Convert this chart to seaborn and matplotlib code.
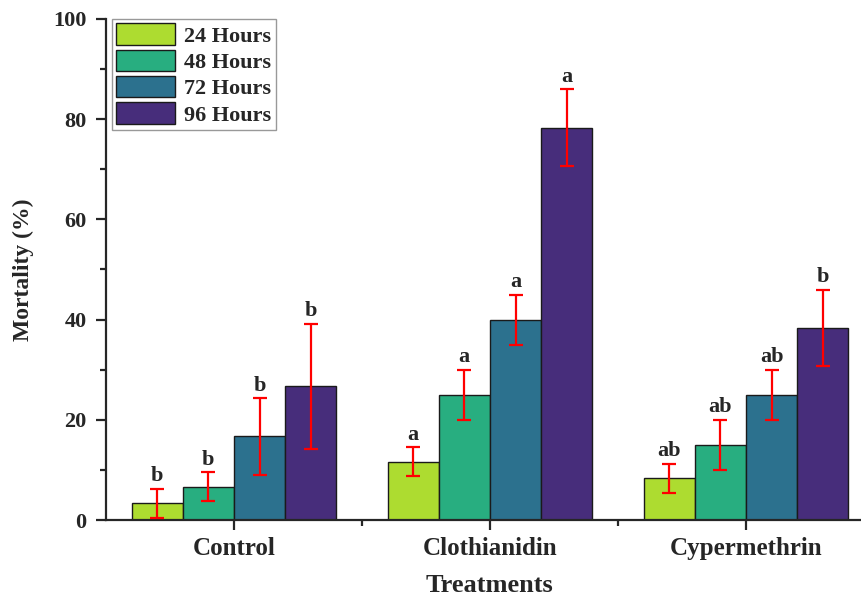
import numpy as np
import pandas as pd
import seaborn as sns
import matplotlib.pyplot as plt
from matplotlib.ticker import MultipleLocator

treatments = ["Control", "Clothianidin", "Cypermethrin"]
hours = ["24 Hours", "48 Hours", "72 Hours", "96 Hours"]
# mortality means, one list per exposure time (Control, Clothianidin, Cypermethrin)
m24 = [3.33, 11.67, 8.33]
m48 = [6.67, 25.0, 15.0]
m72 = [16.67, 40.0, 25.0]
m96 = [26.67, 78.33, 38.33]
# standard errors
e24 = [2.9, 2.9, 2.9]
e48 = [2.9, 5.0, 5.0]
e72 = [7.6, 5.0, 5.0]
e96 = [12.5, 7.6, 7.6]
# significance letters
l24 = ["b", "a", "ab"]
l48 = ["b", "a", "ab"]
l72 = ["b", "a", "ab"]
l96 = ["b", "a", "b"]

colors = ["#addc30", "#28ae80", "#2c718e", "#472d7b"]

rows = []
for h, m, e, l in zip(hours, [m24, m48, m72, m96], [e24, e48, e72, e96], [l24, l48, l72, l96]):
    for t, mv, ev, lv in zip(treatments, m, e, l):
        rows.append({"Treatment": t, "Time": h, "Mortality": mv, "SE": ev, "Letter": lv})
df = pd.DataFrame(rows)

sns.set_style("ticks")
plt.rcParams["font.family"] = ["Liberation Serif", "DejaVu Serif"]
plt.rcParams["font.weight"] = "bold"

fig = plt.figure(figsize=(8.61, 5.96), dpi=100)
ax = fig.add_axes([0.123, 0.1275, 0.892, 0.8407])

sns.barplot(data=df, x="Treatment", y="Mortality", hue="Time", order=treatments,
            hue_order=hours, palette=colors, errorbar=None, width=0.8,
            edgecolor="#1a1a1a", linewidth=1, saturation=1, ax=ax)

for container, h in zip(ax.containers, hours):
    sub = df[df["Time"] == h].set_index("Treatment").loc[treatments]
    xs = [b.get_x() + b.get_width() / 2 for b in container]
    ax.errorbar(xs, sub["Mortality"], yerr=sub["SE"], fmt="none", ecolor="red",
                elinewidth=1.6, capsize=5, capthick=1.6, zorder=5)
    for x, y, e, lt in zip(xs, sub["Mortality"], sub["SE"], sub["Letter"]):
        ax.text(x, y + e + 0.5, lt, ha="center", va="bottom", fontsize=16,
                fontweight="bold")

ax.set_xlim(-0.5, 2.5)
ax.set_ylim(0, 100)
ax.yaxis.set_major_locator(MultipleLocator(20))
ax.yaxis.set_minor_locator(MultipleLocator(10))
ax.set_xticks([0.5, 1.5], minor=True)
sns.despine(ax=ax)
for s in ["left", "bottom"]:
    ax.spines[s].set_linewidth(1.6)
ax.tick_params(axis="both", which="major", direction="out", length=7, width=1.6)
ax.tick_params(axis="both", which="minor", direction="out", length=4, width=1.6)
ax.tick_params(axis="x", labelsize=18, pad=5)
ax.tick_params(axis="y", labelsize=16, pad=7)
for lab in ax.get_xticklabels() + ax.get_yticklabels():
    lab.set_fontweight("bold")

ax.set_xlabel("Treatments", fontsize=19, fontweight="bold", labelpad=10)
ax.set_ylabel("Mortality (%)", fontsize=17, fontweight="bold", labelpad=14)

leg = ax.legend(loc="upper left", bbox_to_anchor=(0.008, 1.0), frameon=True,
                fancybox=False, edgecolor="gray", fontsize=16, handlelength=2.65,
                handleheight=1.1, labelspacing=0.14, handletextpad=0.4,
                borderpad=0.2, borderaxespad=0)
leg.get_frame().set_linewidth(1)
for t in leg.get_texts():
    t.set_fontweight("bold")

fig.savefig("out.png", dpi=100)
